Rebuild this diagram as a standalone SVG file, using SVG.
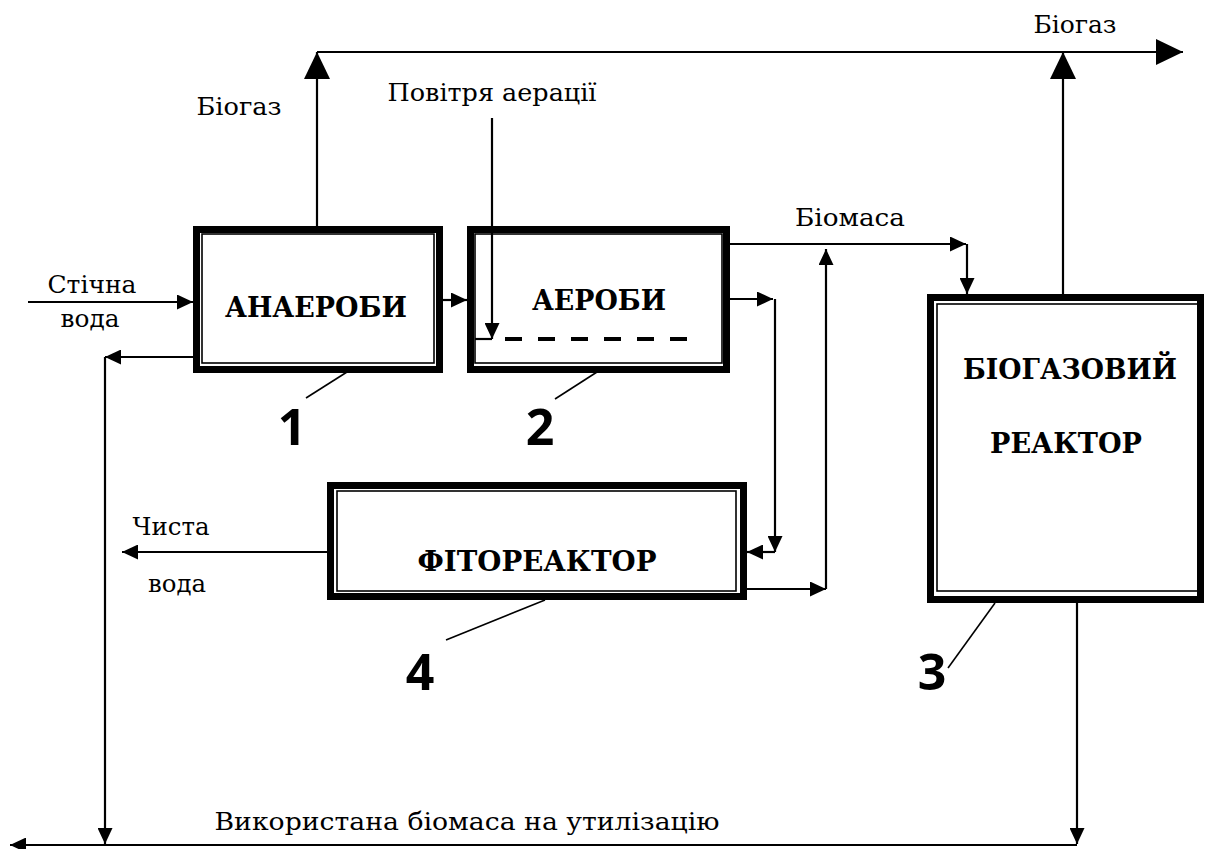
<svg xmlns="http://www.w3.org/2000/svg" width="1209" height="849" viewBox="0 0 1209 849">
<style>
.outer{fill:#fff;stroke:#000;stroke-width:7}
.inner{fill:none;stroke:#000;stroke-width:1.6}
.title{font-family:"DejaVu Serif","Liberation Serif",serif;font-weight:bold;font-size:27px;text-anchor:middle;fill:#000}
.lbl{font-family:"DejaVu Serif","Liberation Serif",serif;font-size:25px;text-anchor:middle;fill:#000}
.num{font-family:"Open Sans","DejaVu Sans",sans-serif;font-weight:bold;font-size:50px;text-anchor:middle;fill:#000}
.c{fill:none;stroke:#000;stroke-width:2.2}
.lead{fill:none;stroke:#000;stroke-width:1.6}
.sa{marker-end:url(#s)}
.ba{marker-end:url(#b)}
</style>
<defs>
<marker id="s" markerUnits="userSpaceOnUse" markerWidth="16" markerHeight="15" refX="16" refY="7.5" orient="auto" viewBox="0 0 16 15"><path d="M0,0 L16,7.5 L0,15 z" fill="#000"/></marker>
<marker id="b" markerUnits="userSpaceOnUse" markerWidth="27" markerHeight="26" refX="27" refY="13" orient="auto" viewBox="0 0 27 26"><path d="M0,0 L27,13 L0,26 z" fill="#000"/></marker>
</defs>
<rect width="1209" height="849" fill="#fff"/>
<g id="connectors">
<path class="c ba" d="M317,226 V52"/>
<path class="c ba" d="M317,52 H1183"/>
<path class="c ba" d="M1063,294 V52"/>
<path class="c sa" d="M28,302 H193"/>
<path class="c sa" d="M443,300 H467"/>
<path class="c sa" d="M193,357 H105"/>
<path class="c sa" d="M105,357 V844"/>
<path class="c sa" d="M1077,603 V844"/>
<path class="c sa" d="M1077,845 H10"/>
<path class="c sa" d="M730,244 H966"/>
<path class="c sa" d="M967,244 V294"/>
<path class="c sa" d="M747,589 H826"/>
<path class="c sa" d="M826,589 V249"/>
<path class="c sa" d="M730,299 H773"/>
<path class="c sa" d="M775,299 V552"/>
<path class="c sa" d="M775,552 H747"/>
<path class="c sa" d="M327,552 H122"/>
<path class="lead" d="M347,372 L306,398"/>
<path class="lead" d="M597,372 L555,399"/>
<path class="lead" d="M545,600 L446,640"/>
<path class="lead" d="M995,603 L948,668"/>
</g>
<g id="node1">
<rect class="outer" x="196.5" y="229.5" width="243" height="140"/>
<rect class="inner" x="202" y="234" width="232" height="129"/>
<text class="title" x="316" y="317" textLength="182" lengthAdjust="spacingAndGlyphs">АНАЕРОБИ</text>
</g>
<g id="node2">
<rect class="outer" x="470.5" y="229.5" width="256" height="140"/>
<rect class="inner" x="475" y="234" width="247" height="129"/>
<text class="title" x="599" y="310" textLength="134" lengthAdjust="spacingAndGlyphs">АЕРОБИ</text>
<path d="M475,339 H492" fill="none" stroke="#000" stroke-width="2.2"/>
<path d="M505,339 H690" fill="none" stroke="#000" stroke-width="4" stroke-dasharray="17,16"/>
</g>
<g id="connector-air">
<path class="c sa" d="M492,118 V339"/>
</g>
<g id="node3">
<rect class="outer" x="930.5" y="297.5" width="270" height="302"/>
<rect class="inner" x="937" y="304" width="262" height="287"/>
<text class="title" x="1070" y="379" textLength="214" lengthAdjust="spacingAndGlyphs">БІОГАЗОВИЙ</text>
<text class="title" x="1066" y="453" textLength="152" lengthAdjust="spacingAndGlyphs">РЕАКТОР</text>
</g>
<g id="node4">
<rect class="outer" x="330.5" y="485.5" width="413" height="111"/>
<rect class="inner" x="337" y="491" width="399" height="100"/>
<text class="title" x="537" y="571" textLength="239" lengthAdjust="spacingAndGlyphs">ФІТОРЕАКТОР</text>
</g>
<g id="labels">
<text class="lbl" x="1075" y="33" textLength="83" lengthAdjust="spacingAndGlyphs">Біогаз</text>
<text class="lbl" x="239" y="115" textLength="85" lengthAdjust="spacingAndGlyphs">Біогаз</text>
<text class="lbl" x="492" y="101" textLength="209" lengthAdjust="spacingAndGlyphs">Повітря аерації</text>
<text class="lbl" x="850" y="226" textLength="110" lengthAdjust="spacingAndGlyphs">Біомаса</text>
<text class="lbl" x="92" y="293" textLength="89" lengthAdjust="spacingAndGlyphs">Стічна</text>
<text class="lbl" x="90" y="327" textLength="59" lengthAdjust="spacingAndGlyphs">вода</text>
<text class="lbl" x="171" y="535" textLength="77" lengthAdjust="spacingAndGlyphs">Чиста</text>
<text class="lbl" x="177" y="592" textLength="58" lengthAdjust="spacingAndGlyphs">вода</text>
<text class="lbl" x="467" y="830" textLength="505" lengthAdjust="spacingAndGlyphs">Використана біомаса на утилізацію</text>
<text class="num" x="292" y="445">1</text>
<text class="num" x="540" y="445">2</text>
<text class="num" x="420" y="690">4</text>
<text class="num" x="932" y="690">3</text>
</g>
</svg>
